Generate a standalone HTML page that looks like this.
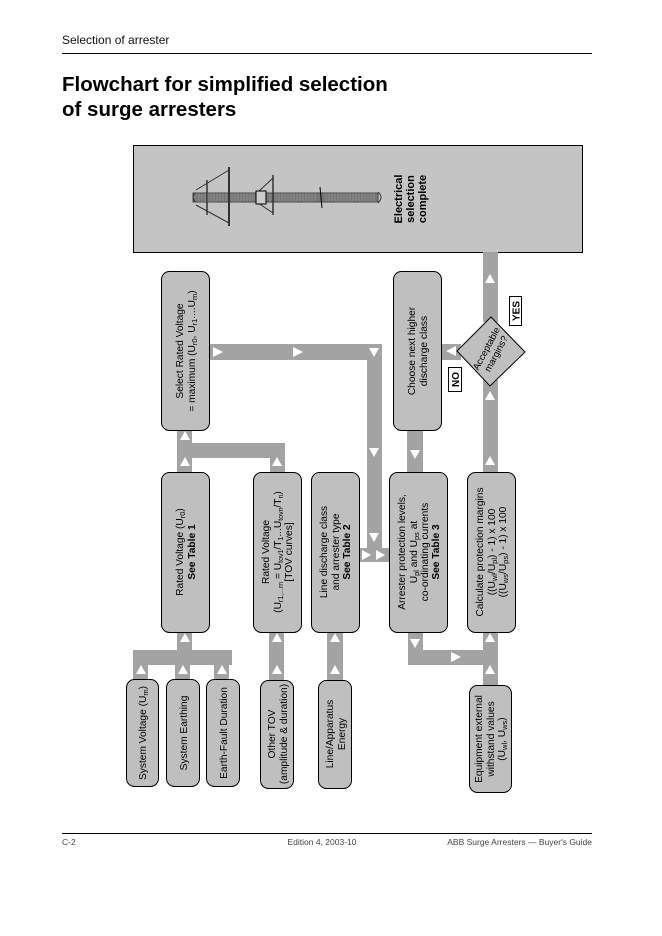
<!DOCTYPE html>
<html><head><meta charset="utf-8"><style>
html,body{margin:0;padding:0;background:#fff;}
svg{display:block;font-family:"Liberation Sans",Arial,sans-serif;}
</style></head><body>
<svg width="662" height="936" viewBox="0 0 662 936" xmlns="http://www.w3.org/2000/svg">
<text x="62" y="44" font-size="12" fill="#111">Selection of arrester</text>
<line x1="62" y1="53.5" x2="592" y2="53.5" stroke="#000" stroke-width="1"/>
<text x="62" y="91" font-size="20.5" font-weight="bold" fill="#000">Flowchart for simplified selection</text>
<text x="62" y="116" font-size="20.5" font-weight="bold" fill="#000">of surge arresters</text>

<!-- top box -->
<rect x="133.5" y="145.5" width="449" height="107" fill="#c4c4c4" stroke="#000" stroke-width="1"/>
<!-- arrester drawing -->
<g stroke="#333" fill="none" stroke-width="1">
<rect x="193" y="193" width="185" height="9" fill="#777" stroke="#444"/>
<path d="M196 193 Q190 197 196 202" />
<line x1="229" y1="167" x2="229" y2="226" stroke-width="2"/>
<line x1="207" y1="180" x2="207" y2="215" stroke-width="1.5"/>
<line x1="196" y1="190" x2="229" y2="170"/><line x1="196" y1="205" x2="229" y2="223"/>
<line x1="273" y1="175" x2="273" y2="215" stroke-width="1.5"/>
<line x1="258" y1="192" x2="273" y2="178"/><line x1="258" y1="203" x2="273" y2="213"/>
<rect x="256" y="191" width="10" height="13" fill="#ccc" stroke="#000"/>
<line x1="320" y1="187" x2="322" y2="208" stroke="#000"/>
<path d="M378 192 Q384 197 378 203"/>
</g>
<g stroke="#999" stroke-width="0.6">
<path d="M196 193 v9 M199 193 v9 M202 193 v9 M205 193 v9 M208 193 v9 M211 193 v9 M214 193 v9 M217 193 v9 M220 193 v9 M223 193 v9 M226 193 v9 M232 193 v9 M235 193 v9 M238 193 v9 M241 193 v9 M244 193 v9 M247 193 v9 M250 193 v9 M253 193 v9 M270 193 v9 M276 193 v9 M279 193 v9 M282 193 v9 M285 193 v9 M288 193 v9 M291 193 v9 M294 193 v9 M297 193 v9 M300 193 v9 M303 193 v9 M306 193 v9 M309 193 v9 M312 193 v9 M315 193 v9 M326 193 v9 M329 193 v9 M332 193 v9 M335 193 v9 M338 193 v9 M341 193 v9 M344 193 v9 M347 193 v9 M350 193 v9 M353 193 v9 M356 193 v9 M359 193 v9 M362 193 v9 M365 193 v9 M368 193 v9 M371 193 v9 M374 193 v9"/>
</g>
<g transform="translate(410,199) rotate(-90)" font-size="11" font-weight="bold" text-anchor="middle" fill="#000">
<text y="-8">Electrical</text><text y="4">selection</text><text y="16">complete</text>
</g>

<!-- connectors -->
<g fill="#a3a3a3">
<rect x="209" y="344" width="173" height="16"/>
<rect x="367" y="344" width="15" height="216"/>
<rect x="359" y="548" width="30" height="14"/>
<rect x="407" y="430" width="16" height="42"/>
<rect x="441" y="344" width="20" height="16"/>
<rect x="483" y="380" width="15" height="92"/>
<rect x="483" y="252" width="15" height="70"/>
<rect x="177" y="430" width="15" height="42"/>
<rect x="177" y="443" width="108" height="15"/>
<rect x="270" y="443" width="15" height="29"/>
<rect x="177" y="632" width="15" height="20"/>
<rect x="133" y="650" width="99" height="15"/>
<rect x="133" y="650" width="15" height="29"/>
<rect x="175" y="650" width="15" height="29"/>
<rect x="214" y="650" width="15" height="29"/>
<rect x="269" y="632" width="15" height="48"/>
<rect x="327" y="632" width="16" height="48"/>
<rect x="408" y="632" width="15" height="33"/>
<rect x="408" y="650" width="90" height="15"/>
<rect x="483" y="632" width="15" height="53"/>
</g>

<!-- boxes -->
<g fill="#bfbfbf" stroke="#000" stroke-width="1">
<rect x="161.5" y="271.5" width="48" height="159" rx="8"/>
<rect x="393.5" y="271.5" width="48" height="159" rx="8"/>
<rect x="161.5" y="472.5" width="48" height="160" rx="8"/>
<rect x="253.5" y="472.5" width="48" height="160" rx="8"/>
<rect x="311.5" y="472.5" width="48" height="160" rx="8"/>
<rect x="389.5" y="472.5" width="58" height="160" rx="8"/>
<rect x="467.5" y="472.5" width="48" height="160" rx="8"/>
<rect x="126.5" y="679.5" width="32" height="107" rx="8"/>
<rect x="166.5" y="679.5" width="33" height="107" rx="8"/>
<rect x="206.5" y="679.5" width="33" height="107" rx="8"/>
<rect x="260.5" y="680.5" width="33" height="108" rx="8"/>
<rect x="318.5" y="680.5" width="33" height="108" rx="8"/>
<rect x="469.5" y="685.5" width="42" height="107" rx="8"/>
<polygon points="457,351 491,317 525,352 490,386"/>
</g>

<!-- arrows -->
<g fill="#fff">
<polygon points="213,347 213,357 223,352"/>
<polygon points="293,347 293,357 303,352"/>
<polygon points="369,348 379,348 374,357"/>
<polygon points="369,448 379,448 374,457"/>
<polygon points="369,533 379,533 374,542"/>
<polygon points="362,550 362,560 371,555"/>
<polygon points="376,550 376,560 385,555"/>
<polygon points="410,450 420,450 415,459"/>
<polygon points="456,346 456,356 446,351"/>
<polygon points="485,283 495,283 490,274"/>
<polygon points="485,400 495,400 490,391"/>
<polygon points="485,465 495,465 490,456"/>
<polygon points="180,440 190,440 185,431"/>
<polygon points="180,466 190,466 185,457"/>
<polygon points="272,466 282,466 277,457"/>
<polygon points="180,642 190,642 185,633"/>
<polygon points="136,674 146,674 141,665"/>
<polygon points="178,674 188,674 183,665"/>
<polygon points="217,674 227,674 222,665"/>
<polygon points="272,642 282,642 277,633"/>
<polygon points="272,674 282,674 277,665"/>
<polygon points="330,642 340,642 335,633"/>
<polygon points="330,674 340,674 335,665"/>
<polygon points="410,639 420,639 415,648"/>
<polygon points="451,652 451,662 461,657"/>
<polygon points="485,642 495,642 490,633"/>
<polygon points="485,674 495,674 490,665"/>
</g>

<!-- YES / NO -->
<rect x="509.5" y="296.5" width="12" height="29" fill="#fff" stroke="#000"/>
<text transform="translate(519.5,311) rotate(-90)" font-size="10" font-weight="bold" text-anchor="middle">YES</text>
<rect x="448.5" y="367.5" width="13" height="24" fill="#fff" stroke="#000"/>
<text transform="translate(459,379.5) rotate(-90)" font-size="10" font-weight="bold" text-anchor="middle">NO</text>

<!-- box texts -->
<g font-size="10.2" text-anchor="middle" fill="#000">
<g transform="translate(491,351) rotate(-62)" font-size="9.5"><text y="-2">Acceptable</text><text y="9">margins?</text></g>
<g transform="translate(185,351) rotate(-90)"><text y="-2">Select Rated Voltage</text><text y="10">= maximum (U<tspan font-size="7.5" dy="2">r0</tspan><tspan dy="-2">, U</tspan><tspan font-size="7.5" dy="2">r1</tspan><tspan dy="-2">....U</tspan><tspan font-size="7.5" dy="2">m</tspan><tspan dy="-2">)</tspan></text></g>
<g transform="translate(417,351) rotate(-90)"><text y="-2">Choose next higher</text><text y="10">discharge class</text></g>
<g transform="translate(185,552) rotate(-90)"><text y="-2">Rated Voltage (U<tspan font-size="7.5" dy="2">r0</tspan><tspan dy="-2">)</tspan></text><text y="10" font-weight="bold">See Table 1</text></g>
<g transform="translate(277,552) rotate(-90)"><text y="-8">Rated Voltage</text><text y="4">(U<tspan font-size="7" dy="2">r1,...rn</tspan><tspan dy="-2"> = U</tspan><tspan font-size="7" dy="2">tov1</tspan><tspan dy="-2">/T</tspan><tspan font-size="7" dy="2">1</tspan><tspan dy="-2">...U</tspan><tspan font-size="7" dy="2">tovn</tspan><tspan dy="-2">/T</tspan><tspan font-size="7" dy="2">n</tspan><tspan dy="-2">)</tspan></text><text y="15">[TOV curves]</text></g>
<g transform="translate(335,552) rotate(-90)"><text y="-8">Line discharge class</text><text y="4">and arrester type</text><text y="15" font-weight="bold">See Table 2</text></g>
<g transform="translate(418,552) rotate(-90)"><text y="-13">Arrester protection levels,</text><text y="-1">U<tspan font-size="7.5" dy="2">pl</tspan><tspan dy="-2"> and U</tspan><tspan font-size="7.5" dy="2">ps</tspan><tspan dy="-2"> at</tspan></text><text y="10">co-ordinating currents</text><text y="21" font-weight="bold">See Table 3</text></g>
<g transform="translate(491,552) rotate(-90)"><text y="-8">Calculate protection margins</text><text y="4">((U<tspan font-size="7.5" dy="2">wl</tspan><tspan dy="-2">/U</tspan><tspan font-size="7.5" dy="2">pl</tspan><tspan dy="-2">) - 1) x 100</tspan></text><text y="15">((U<tspan font-size="7.5" dy="2">ws</tspan><tspan dy="-2">/U</tspan><tspan font-size="7.5" dy="2">ps</tspan><tspan dy="-2">) - 1) x 100</tspan></text></g>
<g transform="translate(142,733) rotate(-90)"><text y="4">System Voltage (U<tspan font-size="7.5" dy="2">m</tspan><tspan dy="-2">)</tspan></text></g>
<g transform="translate(183,733) rotate(-90)"><text y="4">System Earthing</text></g>
<g transform="translate(223,733) rotate(-90)"><text y="4">Earth-Fault Duration</text></g>
<g transform="translate(277,734) rotate(-90)"><text y="-2">Other TOV</text><text y="10">(amplitude &amp; duration)</text></g>
<g transform="translate(335,734) rotate(-90)"><text y="-2">Line/Apparatus</text><text y="10">Energy</text></g>
<g transform="translate(490,739) rotate(-90)"><text y="-8">Equipment external</text><text y="4">withstand values</text><text y="15">(U<tspan font-size="7.5" dy="2">wl</tspan><tspan dy="-2">, U</tspan><tspan font-size="7.5" dy="2">ws</tspan><tspan dy="-2">)</tspan></text></g>
</g>

<!-- footer -->
<line x1="62" y1="833.5" x2="592" y2="833.5" stroke="#000" stroke-width="1"/>
<g font-size="8.5" fill="#444">
<text x="62" y="845">C-2</text>
<text x="322" y="845" text-anchor="middle">Edition 4, 2003-10</text>
<text x="592" y="845" text-anchor="end">ABB Surge Arresters — Buyer's Guide</text>
</g>
</svg>
</body></html>
